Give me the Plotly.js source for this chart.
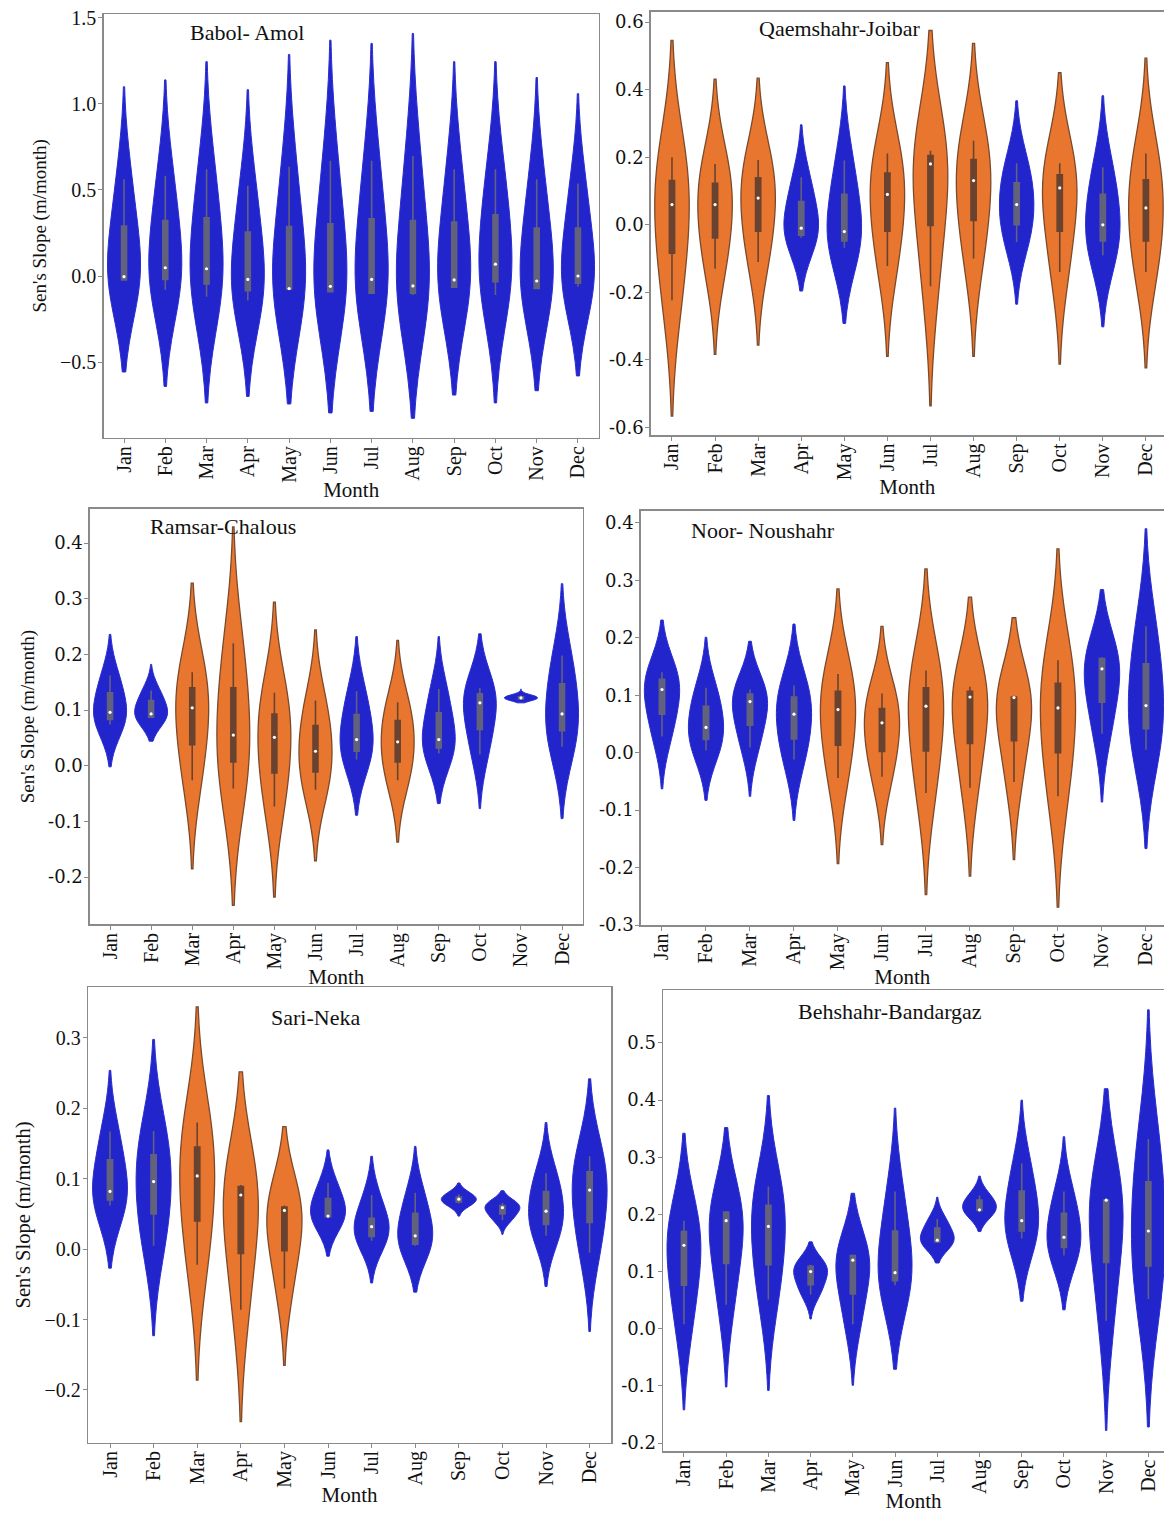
<!DOCTYPE html>
<html><head><meta charset="utf-8">
<script src="https://cdn.plot.ly/plotly-3.0.1.min.js"></script>
<style>html,body{margin:0;padding:0;background:#fff}#chart{width:1164px;height:1513px}</style>
</head><body><div id="chart"></div>
<script>
const months = ['Jan','Feb','Mar','Apr','May','Jun','Jul','Aug','Sep','Oct','Nov','Dec'];

// Each month: [lower whisker, Q1, median, Q3, upper whisker]
const babolAmolSamples = [
  [-0.025,-0.023,-0.004,0.29,0.563],[-0.08,-0.02,0.048,0.323,0.583],[-0.12,-0.046,0.042,0.338,0.62],
  [-0.142,-0.085,-0.02,0.256,0.525],[-0.08,-0.077,-0.073,0.288,0.635],[-0.095,-0.092,-0.06,0.304,0.67],
  [-0.10,-0.10,-0.02,0.333,0.67],[-0.11,-0.10,-0.058,0.323,0.698],[-0.07,-0.065,-0.023,0.313,0.62],
  [-0.11,-0.033,0.069,0.356,0.62],[-0.075,-0.073,-0.029,0.279,0.563],[-0.062,-0.042,0.0,0.279,0.538]];
// Violin extent per month: [bottom tip, top tip]
const babolAmolTips = [[-0.558,1.10],[-0.642,1.14],[-0.738,1.246],[-0.70,1.083],[-0.744,1.288],[-0.796,1.371],
  [-0.787,1.352],[-0.827,1.41],[-0.692,1.246],[-0.738,1.246],[-0.667,1.154],[-0.581,1.06]];
const babolAmolGroups = ['b','b','b','b','b','b','b','b','b','b','b','b'];

const qaemshahrJoibarSamples = [
  [-0.223,-0.084,0.06,0.131,0.2],[-0.13,-0.039,0.06,0.123,0.18],[-0.11,-0.019,0.079,0.139,0.192],
  [-0.038,-0.031,-0.01,0.069,0.141],[-0.068,-0.048,-0.02,0.09,0.19],[-0.122,-0.019,0.09,0.153,0.211],
  [-0.182,-0.002,0.18,0.205,0.219],[-0.10,0.013,0.131,0.193,0.249],[-0.051,0.0,0.06,0.124,0.182],
  [-0.14,-0.019,0.109,0.148,0.182],[-0.09,-0.048,0.0,0.09,0.17],[-0.14,-0.048,0.05,0.133,0.211]];
const qaemshahrJoibarTips = [[-0.566,0.546],[-0.383,0.431],[-0.356,0.434],[-0.196,0.296],[-0.292,0.411],[-0.389,0.48],
  [-0.536,0.575],[-0.389,0.537],[-0.235,0.367],[-0.412,0.45],[-0.302,0.382],[-0.423,0.493]];
const qaemshahrJoibarGroups = ['o','o','o','b','b','o','o','o','b','o','b','o'];

const ramsarChalousSamples = [
  [0.074,0.083,0.096,0.131,0.162],[0.086,0.087,0.093,0.117,0.135],[-0.026,0.038,0.104,0.14,0.168],
  [-0.041,0.007,0.055,0.14,0.22],[-0.073,-0.013,0.051,0.093,0.131],[-0.043,-0.011,0.026,0.072,0.117],
  [0.011,0.026,0.047,0.092,0.134],[-0.026,0.007,0.043,0.081,0.114],[0.022,0.032,0.047,0.095,0.138],
  [0.02,0.065,0.113,0.129,0.14],[0.118,0.12,0.122,0.124,0.126],[0.034,0.063,0.093,0.147,0.198]];
const ramsarChalousTips = [[-0.002,0.236],[0.044,0.182],[-0.185,0.328],[-0.251,0.429],[-0.236,0.294],[-0.171,0.244],
  [-0.089,0.232],[-0.137,0.225],[-0.068,0.232],[-0.077,0.237],[0.113,0.138],[-0.095,0.327]];
const ramsarChalousGroups = ['b','b','o','o','o','o','b','o','b','b','b','b'];

const noorNoushahrSamples = [
  [0.028,0.067,0.11,0.128,0.14],[0.004,0.023,0.044,0.081,0.113],[0.009,0.048,0.089,0.102,0.11],
  [-0.012,0.024,0.067,0.097,0.117],[-0.044,0.013,0.075,0.107,0.137],[-0.042,0.002,0.052,0.077,0.103],
  [-0.07,0.003,0.081,0.113,0.143],[-0.061,0.016,0.097,0.107,0.115],[-0.051,0.021,0.096,0.097,0.099],
  [-0.076,0.0,0.078,0.121,0.161],[0.033,0.088,0.146,0.164,0.166],[0.005,0.042,0.082,0.155,0.22]];
const noorNoushahrTips = [[-0.063,0.231],[-0.083,0.201],[-0.076,0.194],[-0.118,0.224],[-0.193,0.285],[-0.16,0.22],
  [-0.247,0.32],[-0.215,0.271],[-0.186,0.235],[-0.269,0.355],[-0.086,0.284],[-0.167,0.39]];
const noorNoushahrGroups = ['b','b','b','b','o','o','o','o','o','o','b','b'];

const sariNekaSamples = [
  [0.062,0.07,0.082,0.127,0.167],[0.005,0.05,0.096,0.134,0.168],[-0.022,0.04,0.104,0.145,0.18],
  [-0.086,-0.006,0.077,0.089,0.091],[-0.056,-0.002,0.055,0.06,0.062],[0.044,0.046,0.047,0.072,0.094],
  [0.012,0.018,0.032,0.044,0.077],[0.005,0.007,0.019,0.051,0.08],[0.065,0.067,0.071,0.074,0.078],
  [0.041,0.05,0.059,0.062,0.066],[0.019,0.035,0.054,0.082,0.108],[-0.005,0.038,0.084,0.11,0.132]];
const sariNekaTips = [[-0.027,0.254],[-0.123,0.298],[-0.186,0.344],[-0.245,0.252],[-0.165,0.174],[-0.01,0.141],
  [-0.048,0.132],[-0.061,0.146],[0.047,0.094],[0.021,0.083],[-0.053,0.18],[-0.117,0.242]];
const sariNekaGroups = ['b','b','o','o','o','b','b','b','b','b','b','b'];

const behshahrBandargazSamples = [
  [0.008,0.076,0.146,0.17,0.189],[0.042,0.114,0.189,0.204,0.206],[0.051,0.112,0.179,0.216,0.249],
  [0.06,0.077,0.1,0.109,0.112],[0.008,0.061,0.12,0.128,0.13],[0.076,0.084,0.098,0.171,0.24],
  [0.15,0.152,0.155,0.176,0.192],[0.204,0.207,0.208,0.225,0.233],[0.158,0.171,0.189,0.241,0.289],
  [0.128,0.142,0.16,0.202,0.24],[0.014,0.116,0.225,0.225,0.226],[0.052,0.11,0.171,0.257,0.332]];
const behshahrBandargazTips = [[-0.142,0.342],[-0.102,0.352],[-0.108,0.408],[0.017,0.152],[-0.099,0.237],[-0.071,0.386],
  [0.115,0.23],[0.17,0.267],[0.048,0.40],[0.033,0.336],[-0.178,0.42],[-0.172,0.558]];
const behshahrBandargazGroups = ['b','b','b','b','b','b','b','b','b','b','b','b'];

const panelTitles = ['Babol- Amol','Qaemshahr-Joibar','Ramsar-Chalous','Noor- Noushahr','Sari-Neka','Behshahr-Bandargaz'];

const yTickVals1 = [-0.5,0,0.5,1.0,1.5];
const yTickText1 = ['\u22120.5','0.0','0.5','1.0','1.5'];
const yTickVals2 = [-0.6,-0.4,-0.2,0,0.2,0.4,0.6];
const yTickText2 = ['-0.6','-0.4','-0.2','0.0','0.2','0.4','0.6'];
const yTickVals3 = [-0.2,-0.1,0,0.1,0.2,0.3,0.4];
const yTickText3 = ['-0.2','-0.1','0.0','0.1','0.2','0.3','0.4'];
const yTickVals4 = [-0.3,-0.2,-0.1,0,0.1,0.2,0.3,0.4];
const yTickText4 = ['-0.3','-0.2','-0.1','0.0','0.1','0.2','0.3','0.4'];
const yTickVals5 = [-0.2,-0.1,0,0.1,0.2,0.3];
const yTickText5 = ['\u22120.2','\u22120.1','0.0','0.1','0.2','0.3'];
const yTickVals6 = [-0.2,-0.1,0,0.1,0.2,0.3,0.4,0.5];
const yTickText6 = ['-0.2','-0.1','0.0','0.1','0.2','0.3','0.4','0.5'];

// ---- presentation ----
const W = 1164, H = 1513;
const COLORS = {
  b: {fill:'#2225cc', line:'#2a2dcf', box:'#62627c', lw:1},
  o: {fill:'#e8762e', line:'#7b4a2c', box:'#6a4330', lw:1.3}
};
const SERIF = 'Liberation Serif, Times New Roman, serif';
const WIDE = 'DejaVu Serif, serif';

const panels = [
  {s:babolAmolSamples, t:babolAmolTips, g:babolAmolGroups, px:[103.8,598.6], py:[14,437.7], xr:[-0.49,11.5], yr:[-0.94,1.523],
   tv:yTickVals1, tt:yTickText1, tf:SERIF, tfs:20, left:true, ytfs:19, title:[247,32]},
  {s:qaemshahrJoibarSamples, t:qaemshahrJoibarTips, g:qaemshahrJoibarGroups, px:[650.7,1164], py:[11.9,435], xr:[-0.494,11.42], yr:[-0.622,0.63],
   tv:yTickVals2, tt:yTickText2, tf:WIDE, tfs:18, left:false, title:[840,28]},
  {s:ramsarChalousSamples, t:ramsarChalousTips, g:ramsarChalousGroups, px:[89.9,582.6], py:[508.7,924.4], xr:[-0.49,11.5], yr:[-0.285,0.4617],
   tv:yTickVals3, tt:yTickText3, tf:WIDE, tfs:18, left:true, ytfs:19, title:[223,526]},
  {s:noorNoushahrSamples, t:noorNoushahrTips, g:noorNoushahrGroups, px:[640.7,1164], py:[510.5,925], xr:[-0.484,11.41], yr:[-0.30,0.4217],
   tv:yTickVals4, tt:yTickText4, tf:WIDE, tfs:18, left:false, title:[763,530]},
  {s:sariNekaSamples, t:sariNekaTips, g:sariNekaGroups, px:[88.2,611], py:[987.3,1442.5], xr:[-0.5,11.49], yr:[-0.2746,0.372],
   tv:yTickVals5, tt:yTickText5, tf:SERIF, tfs:20, left:true, ytfs:20.5, title:[315,1017]},
  {s:behshahrBandargazSamples, t:behshahrBandargazTips, g:behshahrBandargazGroups, px:[663,1164], py:[990.4,1451], xr:[-0.496,11.37], yr:[-0.214,0.592],
   tv:yTickVals6, tt:yTickText6, tf:WIDE, tfs:18, left:false, title:[890,1011]}
];

const traces = [];
const layout = {
  width: W, height: H, margin:{l:0,r:0,t:0,b:0}, paper_bgcolor:'#fff', plot_bgcolor:'#fff',
  showlegend:false, violinmode:'overlay', annotations:[],
  font:{family:SERIF, color:'#111'}
};

function median(arr){ const a = arr.slice().sort((p,q)=>p-q); const n=a.length; return n%2 ? a[(n-1)/2] : (a[n/2-1]+a[n/2])/2; }

panels.forEach((P, p) => {
  const ax = p === 0 ? '' : String(p+1);
  const xa = 'x'+ax, ya = 'y'+ax;
  P.s.forEach((samples, i) => {
    const c = COLORS[P.g[i]];
    const lo = P.t[i][0], hi = P.t[i][1];
    const mn = Math.min(...samples), mx = Math.max(...samples);
    const bw = Math.max(((hi-mx)+(mn-lo))/4, 1e-4);
    traces.push({
      type:'violin', x: samples.map(()=>months[i]), y: samples, xaxis:xa, yaxis:ya,
      width:0.8, scalemode:'width', scalegroup:'p'+p+'m'+i,
      spanmode:'manual', span:[lo,hi], bandwidth:bw, quartilemethod:'inclusive',
      fillcolor:c.fill, line:{color:c.line, width:c.lw}, points:false,
      box:{visible:true, width:0.15, fillcolor:c.box, line:{color:c.box, width:1.6}},
      meanline:{visible:false}, showlegend:false, hoverinfo:'skip'
    });
  });
  traces.push({
    type:'scatter', mode:'markers', x: months, y: P.s.map(median), xaxis:xa, yaxis:ya,
    marker:{color:'#ffffff', size:3.2}, showlegend:false, hoverinfo:'skip'
  });
  layout['xaxis'+ax] = {
    domain:[P.px[0]/W, P.px[1]/W], anchor:ya, type:'category', categoryorder:'array', categoryarray:months,
    range:P.xr, tickangle:-90, tickfont:{family:SERIF, size:20, color:'#111'}, ticklabelstandoff:-5,
    showline:true, linecolor:'#8a8a8a', linewidth:1.5, mirror:true,
    ticks:'outside', ticklen:4, tickcolor:'#8a8a8a', showgrid:false, zeroline:false,
    title:{text:'Month', font:{family:SERIF, size:21, color:'#111'}, standoff:0}
  };
  const yax = {
    domain:[1-P.py[1]/H, 1-P.py[0]/H], anchor:xa, range:P.yr,
    tickmode:'array', tickvals:P.tv, ticktext:P.tt, tickfont:{family:P.tf, size:P.tfs, color:'#111'},
    ticklabelstandoff:-2,
    showline:true, linecolor:'#8a8a8a', linewidth:1.5, mirror:P.left,
    ticks:'outside', ticklen:4, tickcolor:'#8a8a8a', showgrid:false, zeroline:false
  };
  if (P.left) yax.title = {text:"Sen's Slope (m/month)", font:{family:SERIF, size:P.ytfs, color:'#111'}, standoff:8};
  layout['yaxis'+ax] = yax;
  layout.annotations.push({
    text: panelTitles[p], xref:'paper', yref:'paper', x:P.title[0]/W, y:1-P.title[1]/H,
    xanchor:'center', yanchor:'middle', showarrow:false, font:{family:SERIF, size:22, color:'#111'}
  });
});

Plotly.newPlot('chart', traces, layout, {staticPlot:true, displayModeBar:false});
</script>
</body></html>
